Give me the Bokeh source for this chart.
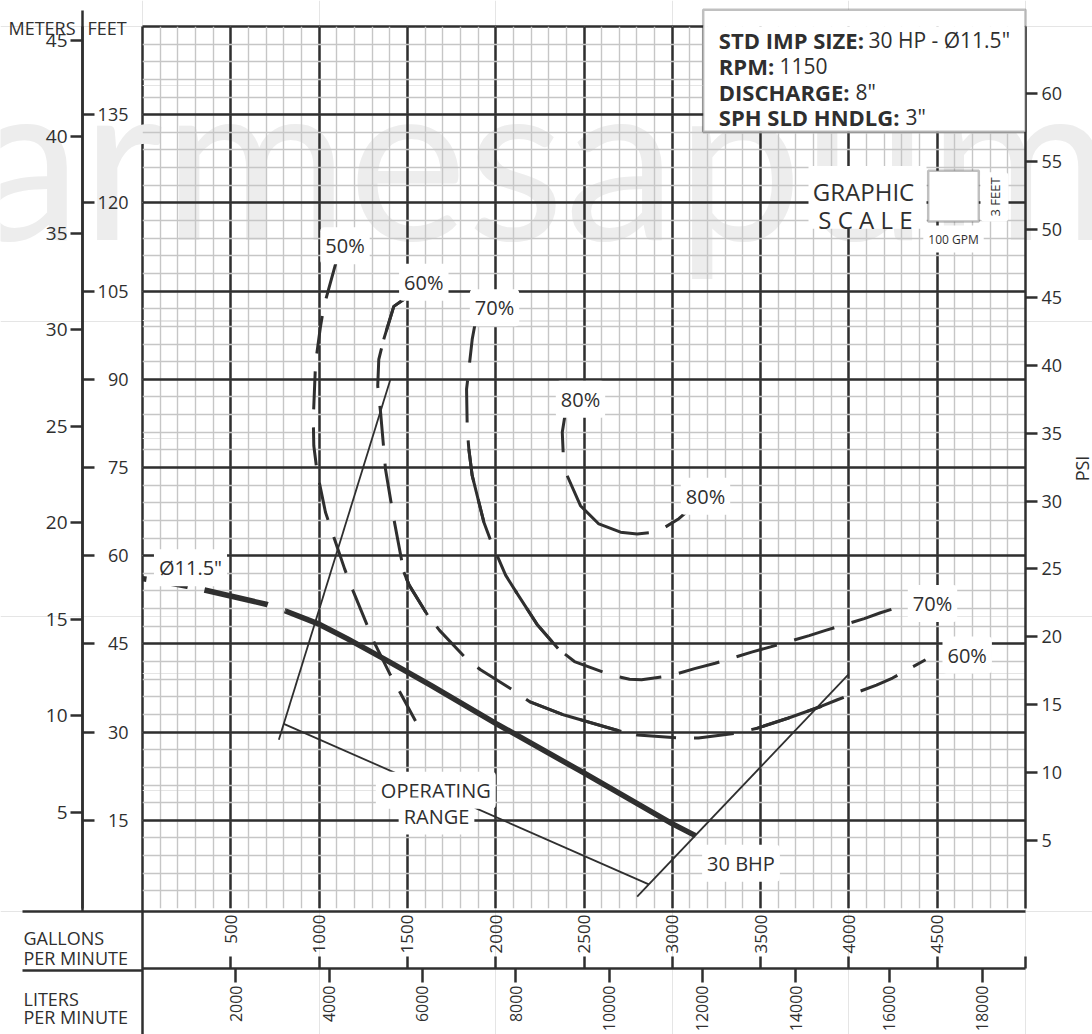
import math
from bokeh.plotting import figure
from bokeh.models import (Range1d, LinearAxis, FixedTicker, Label, BoxAnnotation, Grid)
from bokeh.embed import file_html
from bokeh.resources import INLINE

# ---------------- chart data ----------------
GPM_GRID_MAJOR = list(range(0, 5001, 500))
GPM_GRID_MINOR = list(range(0, 5001, 100))
FT_GRID_MAJOR = list(range(0, 151, 15))
FT_GRID_MINOR = list(range(0, 151, 3))

GPM_TICKS = [500, 1000, 1500, 2000, 2500, 3000, 3500, 4000, 4500]
GPM_MARKS = [500, 1000, 1500, 2000, 2500, 3000, 3500, 4000, 4500, 5000]
LPM_TICKS = [2000, 4000, 6000, 8000, 10000, 12000, 14000, 16000, 18000]
FT_TICKS = [15, 30, 45, 60, 75, 90, 105, 120, 135]
M_TICKS = [5, 10, 15, 20, 25, 30, 35, 40, 45]
PSI_TICKS = [5, 10, 15, 20, 25, 30, 35, 40, 45, 50, 55, 60]

L_PER_GAL = 3.785
FT_PER_M = 3.2808
FT_PER_PSI = 2.31

# impeller head curve (dia 11.5")
HEAD_GPM = [0, 90, 253, 347, 706, 810, 989, 1159, 1365, 1631, 2000, 2497, 3001, 3131]
HEAD_FT = [56.1, 55.7, 54.8, 54.2, 51.7, 50.6, 48.5, 45.9, 42.5, 38.0, 31.5, 23.1, 14.4, 12.4]
HEAD_DASHED_END = 5

EFF50_GPM = [1097, 1027, 1008, 980, 967, 970, 989, 1036, 1074, 1144, 1187, 1272, 1310, 1404, 1461, 1546]
EFF50_FT = [110.0, 102.4, 99.0, 92.8, 83.2, 78.7, 74.2, 67.4, 64.0, 57.8, 54.4, 48.2, 45.4, 39.7, 36.6, 31.9]

EFF60_GPM = [1489, 1423, 1366, 1338, 1332, 1348, 1376, 1423, 1480, 1510, 1614, 1682, 1833, 1914,
             2110, 2191, 2388, 2711, 2803, 3035, 3148, 3358, 3474, 3658, 3845, 3935, 4156, 4247, 4434]
EFF60_FT = [103.8, 102.4, 96.8, 93.4, 88.9, 84.4, 74.7, 66.3, 57.2, 55.0, 49.9, 47.3, 42.5, 40.6,
            36.9, 35.2, 32.9, 30.1, 29.5, 29.0, 29.0, 29.8, 30.6, 32.4, 34.4, 35.5, 38.0, 39.2, 42.3]
EFF60_SOLID = [(0, 2), (8, 10), (15, 17), (22, 24)]

EFF70_GPM = [1886, 1867, 1848, 1835, 1839, 1848, 1867, 1933, 1971, 2056, 2110, 2237, 2353, 2446,
             2653, 2758, 2826, 2990, 3126, 3243, 3449, 3556, 3775, 3868, 4087, 4179, 4318]
EFF70_FT = [99.9, 96.8, 91.7, 88.3, 81.5, 78.1, 73.6, 65.7, 62.6, 56.7, 54.1, 48.2, 44.2, 42.0,
            39.7, 39.0, 38.9, 39.6, 40.8, 41.7, 43.6, 44.5, 46.4, 47.3, 49.3, 50.3, 51.6]
EFF70_SOLID = [(5, 7), (10, 12)]

EFF80_GPM = [2395, 2377, 2382, 2405, 2480, 2584, 2707, 2801, 2867, 2962, 3037, 3103]
EFF80_FT = [84.4, 81.0, 77.6, 73.6, 68.5, 65.4, 64.0, 63.7, 63.9, 64.9, 66.3, 68.0]
EFF80_SOLID = [(0, 2), (3, 8), (9, 11)]

OR_LEFT_GPM = [772, 1404]
OR_LEFT_FT = [28.7, 90.0]
OR_LOW_GPM = [800, 2867]
OR_LOW_FT = [31.4, 4.1]
BHP30_GPM = [2801, 3998]
BHP30_FT = [2.0, 39.8]

INFO_LINES = [("STD IMP SIZE:", '30 HP - Ø11.5"'), ("RPM:", "1150"),
              ("DISCHARGE:", '8"'), ("SPH SLD HNDLG:", '3"')]

# ---------------- layout ----------------
W, H = 1092, 1034
BL, BT, BR, BB = 142, 26, 67, 123
FW = W - BL - BR
FH = H - BT - BB
X_MAX, Y_MAX = 5000, 150
INK = "#2f2f2f"
GRID_MINOR = "#c6c6c6"
FONT = "Open Sans"


def X(px):
    """page pixel x -> GPM (used only to place annotations)"""
    return (px - BL) / FW * X_MAX


def Y(py):
    """page pixel y -> feet"""
    return (BT + FH - py) / FH * Y_MAX


# ===== back layer: page decorations outside the chart frame =====
u = figure(width=W, height=H, x_range=Range1d(X(0), X(W)), y_range=Range1d(Y(H), Y(0)),
           x_axis_location=None, y_axis_location=None, toolbar_location=None,
           output_backend="svg", min_border_left=0, min_border_right=0,
           min_border_top=0, min_border_bottom=0, outline_line_color=None,
           background_fill_color="white", border_fill_color="white")

u.add_layout(Label(x=X(-157), y=Y(152), text="barmesapumps", text_font="Lato",
                   text_font_size="225px", text_color="#ededed", text_align="left",
                   text_baseline="alphabetic"))


def useg(x0, y0, x1, y1, w=2.5):
    u.segment(x0=[X(x0)], y0=[Y(y0)], x1=[X(x1)], y1=[Y(y1)], line_color=INK, line_width=w)


useg(82, 10, 82, 911)          # meters | feet divider
useg(142, 26, 142, 1034)       # frame left edge, continued down
useg(142, 26, 1025, 26)        # frame top edge
useg(22, 911, 1025, 911)       # frame bottom edge, continued left
useg(22, 970, 142, 970)        # gpm / lpm divider


def utext(px, py, s, size, align="left", angle=0.0, baseline="alphabetic"):
    u.add_layout(Label(x=X(px), y=Y(py), text=s, text_font=FONT, text_font_size=size,
                       text_color=INK, text_align=align, text_baseline=baseline, angle=angle))


utext(8, 27.5, "METERS", "18px")
utext(87, 27.5, "FEET", "18px")
utext(23, 937.3, "GALLONS", "18px")
utext(23, 957.3, "PER MINUTE", "18px")
utext(23, 998.3, "LITERS", "18px")
utext(23, 1016, "PER MINUTE", "18px")
utext(1081, 468, "PSI", "18px", align="center", angle=math.pi / 2, baseline="middle")

u.add_layout(BoxAnnotation(left=X(702.7), right=X(1025), top=Y(9.3), bottom=Y(131.7),
                           fill_color="white", fill_alpha=1, line_color=INK, line_width=2.5))

# ===== front layer: the chart itself (transparent background) =====
p = figure(width=W, height=H, x_range=Range1d(0, X_MAX), y_range=Range1d(0, Y_MAX),
           x_axis_location=None, y_axis_location=None, toolbar_location=None,
           output_backend="svg", min_border_left=BL, min_border_right=BR,
           min_border_top=BT, min_border_bottom=BB,
           background_fill_alpha=0, border_fill_alpha=0, outline_line_color=None)
p.styles = {"position": "absolute", "left": "0px", "top": "0px"}

p.extra_x_ranges = {"lpm": Range1d(0, X_MAX * L_PER_GAL)}
p.extra_y_ranges = {"m": Range1d(0, Y_MAX / FT_PER_M), "psi": Range1d(0, Y_MAX / FT_PER_PSI)}

p.add_layout(Grid(dimension=0, ticker=FixedTicker(ticks=GPM_GRID_MAJOR, minor_ticks=GPM_GRID_MINOR),
                  grid_line_color=INK, grid_line_width=2.5,
                  minor_grid_line_color=GRID_MINOR, minor_grid_line_width=1.4))
p.add_layout(Grid(dimension=1, ticker=FixedTicker(ticks=FT_GRID_MAJOR, minor_ticks=FT_GRID_MINOR),
                  grid_line_color=INK, grid_line_width=2.5,
                  minor_grid_line_color=GRID_MINOR, minor_grid_line_width=1.4))


def style_axis(ax, size):
    ax.major_label_text_font = FONT
    ax.major_label_text_font_size = size
    ax.major_label_text_color = INK
    ax.axis_line_color = INK
    ax.axis_line_width = 2.5
    ax.major_tick_line_color = INK
    ax.major_tick_line_width = 2.5
    ax.minor_tick_line_color = INK
    ax.minor_tick_line_width = 2.5


# left: feet labels (inner) and meters axis (outer)
feet_axis = LinearAxis(ticker=FixedTicker(ticks=FT_TICKS))
style_axis(feet_axis, "18px")
feet_axis.axis_line_color = None
feet_axis.major_tick_line_color = None
feet_axis.major_tick_in = 0
feet_axis.major_tick_out = 0
feet_axis.major_label_standoff = 14
feet_axis.axis_label = " "
feet_axis.axis_label_standoff = 0
feet_axis.axis_label_text_font_size = "8px"
p.add_layout(feet_axis, "left")

m_axis = LinearAxis(y_range_name="m",
                    ticker=FixedTicker(ticks=M_TICKS, minor_ticks=[f / FT_PER_M for f in FT_TICKS]))
style_axis(m_axis, "19px")
m_axis.major_tick_in = 0
m_axis.major_tick_out = 12
m_axis.minor_tick_in = 12
m_axis.minor_tick_out = 0
m_axis.major_label_standoff = 3
p.add_layout(m_axis, "left")

# bottom: GPM labels (inner) and LPM axis (outer)
gpm_axis = LinearAxis(ticker=FixedTicker(ticks=GPM_TICKS))
style_axis(gpm_axis, "17px")
gpm_axis.axis_line_color = None
gpm_axis.major_tick_line_color = None
gpm_axis.major_tick_in = 0
gpm_axis.major_tick_out = 0
gpm_axis.major_label_standoff = 6
gpm_axis.major_label_orientation = math.pi / 2
gpm_axis.axis_label = " "
gpm_axis.axis_label_standoff = 0
gpm_axis.axis_label_text_font_size = "8px"
p.add_layout(gpm_axis, "below")

lpm_axis = LinearAxis(x_range_name="lpm",
                      ticker=FixedTicker(ticks=LPM_TICKS, minor_ticks=[g * L_PER_GAL for g in GPM_MARKS]))
style_axis(lpm_axis, "16px")
lpm_axis.major_tick_in = 0
lpm_axis.major_tick_out = 14
lpm_axis.minor_tick_in = 12
lpm_axis.minor_tick_out = 0
lpm_axis.major_label_standoff = 3
lpm_axis.major_label_orientation = math.pi / 2
p.add_layout(lpm_axis, "below")

# right: PSI
psi_axis = LinearAxis(y_range_name="psi", ticker=FixedTicker(ticks=PSI_TICKS))
style_axis(psi_axis, "18px")
psi_axis.major_tick_in = 0
psi_axis.major_tick_out = 12
psi_axis.major_label_standoff = 4
p.add_layout(psi_axis, "right")

# ---------------- curves ----------------
p.line(EFF50_GPM, EFF50_FT, line_color=INK, line_width=3, line_dash="38 18")

p.line(EFF60_GPM, EFF60_FT, line_color=INK, line_width=3, line_dash="40 18")
for a, b in EFF60_SOLID:
    p.line(EFF60_GPM[a:b + 1], EFF60_FT[a:b + 1], line_color=INK, line_width=3)

p.line(EFF70_GPM, EFF70_FT, line_color=INK, line_width=3, line_dash="42 18")
for a, b in EFF70_SOLID:
    p.line(EFF70_GPM[a:b + 1], EFF70_FT[a:b + 1], line_color=INK, line_width=3)

for a, b in EFF80_SOLID:
    p.line(EFF80_GPM[a:b + 1], EFF80_FT[a:b + 1], line_color=INK, line_width=3)

p.line(OR_LEFT_GPM, OR_LEFT_FT, line_color=INK, line_width=1.8)
p.line(OR_LOW_GPM, OR_LOW_FT, line_color=INK, line_width=1.8)
p.line(BHP30_GPM, BHP30_FT, line_color=INK, line_width=1.8)

p.line(HEAD_GPM[:HEAD_DASHED_END + 1], HEAD_FT[:HEAD_DASHED_END + 1], line_color=INK,
       line_width=5.5, line_dash="4 13 29 17 65 18")
p.line(HEAD_GPM[HEAD_DASHED_END:], HEAD_FT[HEAD_DASHED_END:], line_color=INK, line_width=5.5)


# ---------------- in-frame annotations ----------------
def text(px, py, s, size, align="center", bold=False, bg=False, angle=0.0, baseline="alphabetic"):
    lab = Label(x=X(px), y=Y(py), text=s, text_font=FONT, text_font_size=size,
                text_color=INK, text_align=align, text_baseline=baseline, angle=angle,
                text_font_style="bold" if bold else "normal")
    if bg:
        lab.background_fill_color = "white"
        lab.padding = 5
        lab.border_radius = 4
    p.add_layout(lab)


text(190, 569, 'Ø11.5"', "20px", bg=True)
text(344.5, 246, "50%", "20px", bg=True)
text(423.3, 282.7, "60%", "20px", bg=True)
text(494, 308.3, "70%", "20px", bg=True)
text(580, 400, "80%", "20px", bg=True)
text(705, 497.3, "80%", "20px", bg=True)
text(932, 605, "70%", "20px", bg=True)
text(966.7, 656.7, "60%", "20px", bg=True)
text(740.5, 865.7, "30 BHP", "20px", bg=True)
text(435.3, 792.3, "OPERATING", "20px", bg=True)
text(436, 818.3, "RANGE", "20px", bg=True)

# graphic scale
p.add_layout(BoxAnnotation(left=X(808), right=X(926), top=Y(166), bottom=Y(229),
                           fill_color="white", fill_alpha=1, line_color=None))
p.add_layout(BoxAnnotation(left=X(927.7), right=X(978.3), top=Y(170.7), bottom=Y(221.7),
                           fill_color="white", fill_alpha=1, line_color=INK, line_width=2.5))
text(863, 191.7, "GRAPHIC", "24px")
text(865, 220, "S C A L E", "24px")
text(994, 197, "3 FEET", "13px", bg=True, angle=math.pi / 2, baseline="middle")
text(953, 239.3, "100 GPM", "12px", bg=True)

# info box (front copy hides the grid inside the frame)
p.add_layout(BoxAnnotation(left=X(702.7), right=X(1025), top=Y(9.3), bottom=Y(131.7),
                           fill_color="white", fill_alpha=1, line_color=INK, line_width=2.5))
info_base = [39.3, 66, 91.7, 117.3]
info_reg_x = [868, 779, 855, 905]
for (b, r), yb, rx in zip(INFO_LINES, info_base, info_reg_x):
    text(718.3, yb, b, "22px", align="left", bold=True)
    text(rx, yb, r, "21px", align="left")

open("out.html", "w").write(file_html([u, p], INLINE))
